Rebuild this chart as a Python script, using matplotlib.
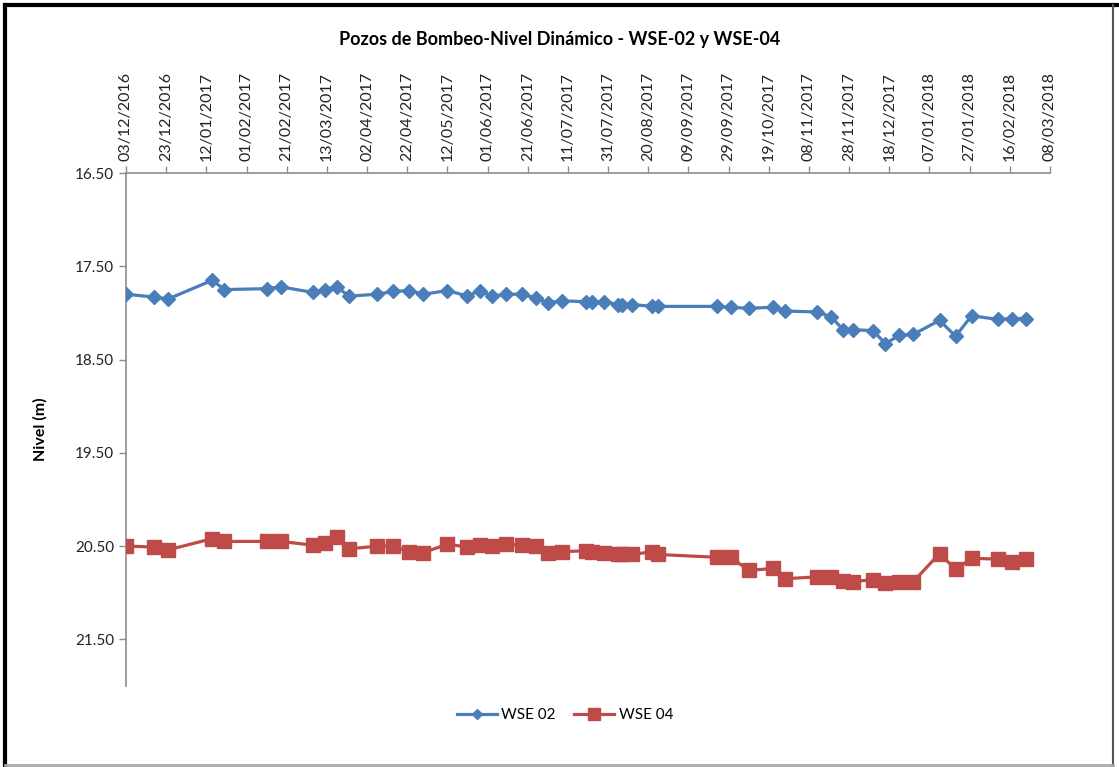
import numpy as np
import pandas as pd
import matplotlib
matplotlib.use("Agg")
import matplotlib.pyplot as plt
import matplotlib.dates as mdates
from matplotlib.lines import Line2D

plt.rcParams['font.family'] = ['Lato', 'DejaVu Sans']

# fechas de medición (mismas para ambos pozos)
fechas = pd.to_datetime([
    "2016-12-03", "2016-12-17", "2016-12-24", "2017-01-15", "2017-01-21",
    "2017-02-11", "2017-02-18", "2017-03-06", "2017-03-12", "2017-03-18",
    "2017-03-24", "2017-04-07", "2017-04-15", "2017-04-23", "2017-04-30",
    "2017-05-12", "2017-05-22", "2017-05-28", "2017-06-03", "2017-06-10",
    "2017-06-18", "2017-06-25", "2017-07-01", "2017-07-08", "2017-07-20",
    "2017-07-23", "2017-07-29", "2017-08-05", "2017-08-07", "2017-08-12",
    "2017-08-22", "2017-08-25", "2017-09-23", "2017-09-30", "2017-10-09",
    "2017-10-21", "2017-10-27", "2017-11-12", "2017-11-19", "2017-11-25",
    "2017-11-30", "2017-12-10", "2017-12-16", "2017-12-23", "2017-12-30",
    "2018-01-12", "2018-01-20", "2018-01-28", "2018-02-10", "2018-02-17",
    "2018-02-24",
])

wse02 = [17.80, 17.83, 17.85, 17.65, 17.75, 17.74, 17.72, 17.78, 17.75, 17.72,
         17.82, 17.80, 17.77, 17.76, 17.80, 17.76, 17.82, 17.76, 17.82, 17.80,
         17.80, 17.84, 17.89, 17.87, 17.88, 17.88, 17.88, 17.91, 17.91, 17.91,
         17.93, 17.93, 17.93, 17.94, 17.95, 17.94, 17.98, 17.99, 18.04, 18.18,
         18.18, 18.19, 18.33, 18.24, 18.23, 18.08, 18.25, 18.03, 18.07, 18.06,
         18.06]

wse04 = [20.50, 20.51, 20.54, 20.42, 20.45, 20.45, 20.45, 20.49, 20.47, 20.40,
         20.53, 20.50, 20.50, 20.56, 20.57, 20.48, 20.51, 20.49, 20.50, 20.48,
         20.49, 20.50, 20.57, 20.56, 20.55, 20.56, 20.57, 20.59, 20.59, 20.59,
         20.56, 20.59, 20.62, 20.62, 20.76, 20.74, 20.85, 20.83, 20.83, 20.87,
         20.88, 20.86, 20.90, 20.89, 20.88, 20.58, 20.75, 20.63, 20.64, 20.67,
         20.64]

y_ticks = [16.5, 17.5, 18.5, 19.5, 20.5, 21.5]
x_ticks = pd.date_range("2016-12-03", "2018-03-08", freq="20D")

azul = '#4A7EBB'
rojo = '#BE4B48'
gris = '#8C8C8C'

fig = plt.figure(figsize=(11.19, 7.67), dpi=100)
ax = fig.add_axes([126/1119, 1 - 686/767, 924/1119, 513/767])

ax.plot(fechas, wse02, color=azul, lw=2.3, marker='D', ms=7.5,
        markerfacecolor=azul, markeredgecolor=azul, label='WSE 02', zorder=3)
ax.plot(fechas, wse04, color=rojo, lw=2.3, marker='s', ms=10,
        markerfacecolor=rojo, markeredgecolor=rojo, label='WSE 04', zorder=3)

# eje Y invertido, eje de fechas arriba
ax.set_ylim(22.0, 16.5)
ax.set_yticks(y_ticks)
ax.set_yticklabels([f"{v:.2f}" for v in y_ticks], fontsize=11)
ax.set_xlim(x_ticks[0], x_ticks[-1])
ax.set_xticks(x_ticks)
ax.xaxis.set_major_formatter(mdates.DateFormatter('%d/%m/%Y'))
ax.xaxis.tick_top()
plt.setp(ax.get_xticklabels(), rotation=90, fontsize=11.5)

for s in ['right', 'bottom']:
    ax.spines[s].set_visible(False)
for s in ['top', 'left']:
    ax.spines[s].set_color(gris)
    ax.spines[s].set_linewidth(1.2)
ax.tick_params(axis='both', colors=gris, labelcolor='#222222', length=5, width=1)

ax.set_ylabel('Nivel (m)', fontsize=11.5, fontweight='bold', labelpad=20)

fig.text(0.5, 1 - 40/767, 'Pozos de Bombeo-Nivel Dinámico - WSE-02 y WSE-04',
         ha='center', va='center', fontsize=13, fontweight='bold')

handles = [
    Line2D([], [], color=azul, lw=2.3, marker='D', ms=5.5, label='WSE 02'),
    Line2D([], [], color=rojo, lw=2.3, marker='s', ms=8.5, label='WSE 04'),
]
fig.legend(handles=handles, loc='center', bbox_to_anchor=(0.505, 1 - 715/767),
           ncol=2, frameon=False, fontsize=11, handlelength=2.6,
           columnspacing=1.2, handletextpad=0.3)

# marco de la imagen
fig.add_artist(Line2D([5/1119, 5/1119], [0, 1 - 5/767], transform=fig.transFigure,
                      color='black', lw=3))
fig.add_artist(Line2D([5/1119, 1], [1 - 5/767, 1 - 5/767], transform=fig.transFigure,
                      color='black', lw=3))
fig.add_artist(Line2D([1113/1119, 1113/1119], [0, 1 - 5/767], transform=fig.transFigure,
                      color='#555555', lw=1.5))
fig.add_artist(Line2D([5/1119, 1113/1119], [2/767, 2/767], transform=fig.transFigure,
                      color='#aaaaaa', lw=2))

fig.savefig('out.png', dpi=100)
